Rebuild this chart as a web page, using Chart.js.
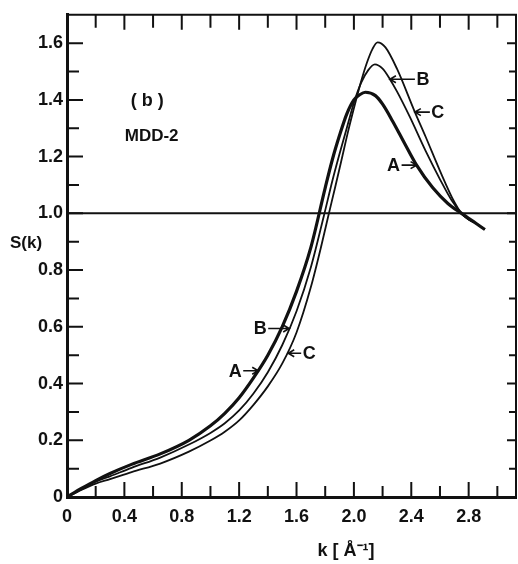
<!DOCTYPE html>
<html>
<head>
<meta charset="utf-8">
<script src="https://cdn.jsdelivr.net/npm/chart.js@4.4.1/dist/chart.umd.min.js"></script>
<style>
  html, body { margin: 0; padding: 0; background: #fff; }
  #wrap { width: 518px; height: 564px; }
</style>
</head>
<body>
<div id="wrap"><canvas id="sk" width="518" height="564"></canvas></div>
<script>
// curve A (thick)
const kA = [0, 0.1, 0.2, 0.3, 0.45, 0.65, 0.85, 1.0, 1.1, 1.2, 1.3, 1.4, 1.5, 1.6, 1.7, 1.8, 1.85, 1.9, 1.95, 2.0, 2.04, 2.08, 2.15, 2.2, 2.27, 2.35, 2.437, 2.55, 2.655, 2.75, 2.85, 2.913];
const sA = [0, 0.03, 0.058, 0.083, 0.115, 0.152, 0.2, 0.251, 0.295, 0.35, 0.42, 0.5, 0.6, 0.725, 0.88, 1.09, 1.19, 1.275, 1.35, 1.4, 1.418, 1.427, 1.415, 1.385, 1.325, 1.25, 1.17, 1.09, 1.035, 1.0, 0.965, 0.943];
// curve B
const kB = [0, 0.1, 0.2, 0.3, 0.45, 0.65, 0.85, 1.0, 1.1, 1.2, 1.3, 1.4, 1.5, 1.6, 1.7, 1.79, 1.85, 1.9, 1.95, 2.0, 2.05, 2.1, 2.146, 2.2, 2.251, 2.3, 2.39, 2.5, 2.6, 2.68, 2.75, 2.8, 2.85, 2.913];
const sB = [0, 0.028, 0.054, 0.073, 0.103, 0.139, 0.185, 0.226, 0.26, 0.305, 0.365, 0.44, 0.535, 0.655, 0.81, 0.99, 1.115, 1.21, 1.3, 1.39, 1.46, 1.505, 1.525, 1.51, 1.473, 1.43, 1.34, 1.22, 1.12, 1.047, 1.0, 0.978, 0.965, 0.943];
// curve C
const kC = [0, 0.1, 0.2, 0.3, 0.45, 0.65, 0.85, 1.0, 1.1, 1.2, 1.3, 1.4, 1.5, 1.6, 1.7, 1.775, 1.821, 1.866, 1.91, 1.96, 2.01, 2.05, 2.09, 2.13, 2.165, 2.22, 2.3, 2.425, 2.5, 2.6, 2.7, 2.75, 2.8, 2.85, 2.913];
const sC = [0, 0.025, 0.047, 0.063, 0.088, 0.118, 0.16, 0.199, 0.23, 0.27, 0.325, 0.39, 0.47, 0.58, 0.74, 0.89, 0.99, 1.085, 1.18, 1.29, 1.39, 1.465, 1.53, 1.58, 1.603, 1.585, 1.51, 1.357, 1.27, 1.15, 1.04, 1.0, 0.978, 0.965, 0.943];

const xTicks = [0, 0.4, 0.8, 1.2, 1.6, 2.0, 2.4, 2.8];
const xTickLabels = ['0', '0.4', '0.8', '1.2', '1.6', '2.0', '2.4', '2.8'];
const yTicks = [0, 0.2, 0.4, 0.6, 0.8, 1.0, 1.2, 1.4, 1.6];
const yTickLabels = ['0', '0.2', '0.4', '0.6', '0.8', '1.0', '1.2', '1.4', '1.6'];

const FONT = '"Liberation Sans", Arial, sans-serif';
const INK = '#111';

function pts(ks, ss) {
  return ks.map((k, i) => ({ x: k, y: ss[i] }));
}

// curve labels: arrow tip (data coords), arrow length, which side the letter sits
const curveLabels = [
  { text: 'A', x: 2.437, y: 1.17, len: 15, side: 'left' },
  { text: 'B', x: 2.251, y: 1.473, len: 25, side: 'right' },
  { text: 'C', x: 2.425, y: 1.357, len: 15, side: 'right' },
  { text: 'A', x: 1.333, y: 0.445, len: 15, side: 'left' },
  { text: 'B', x: 1.549, y: 0.594, len: 21, side: 'left' },
  { text: 'C', x: 1.542, y: 0.507, len: 13, side: 'right' },
];

function arrow(ctx, x1, y, x2) {
  const d = x2 > x1 ? 1 : -1;
  ctx.beginPath();
  ctx.moveTo(x1, y);
  ctx.lineTo(x2, y);
  ctx.moveTo(x2 - d * 6, y - 3.5);
  ctx.lineTo(x2, y);
  ctx.lineTo(x2 - d * 6, y + 3.5);
  ctx.stroke();
}

const decor = {
  id: 'decor',
  afterDatasetsDraw(chart) {
    const { ctx, chartArea: a, scales: { x, y } } = chart;
    ctx.save();
    ctx.strokeStyle = INK;
    ctx.fillStyle = INK;

    // top and right frame
    ctx.lineWidth = 2;
    ctx.beginPath();
    ctx.moveTo(a.left, a.top);
    ctx.lineTo(a.right, a.top);
    ctx.lineTo(a.right, a.bottom);
    ctx.stroke();

    // S(k) = 1 line
    ctx.lineWidth = 2;
    ctx.beginPath();
    ctx.moveTo(a.left, y.getPixelForValue(1));
    ctx.lineTo(a.right, y.getPixelForValue(1));
    ctx.stroke();

    // inward ticks
    ctx.lineWidth = 2;
    for (let i = 1; i <= 15; i++) {
      const v = i * 0.2;
      const px = x.getPixelForValue(v);
      if (px >= a.right - 1) break;
      const major = i % 2 === 0;
      ctx.beginPath();
      ctx.moveTo(px, a.bottom);
      ctx.lineTo(px, a.bottom - (major ? 15 : 11));
      ctx.moveTo(px, a.top);
      ctx.lineTo(px, a.top + (major ? 15 : 13));
      ctx.stroke();
    }
    for (let i = 1; i <= 16; i++) {
      const py = y.getPixelForValue(i * 0.1);
      const major = i % 2 === 0;
      ctx.beginPath();
      ctx.moveTo(a.left, py);
      ctx.lineTo(a.left + (major ? 16 : 12), py);
      ctx.moveTo(a.right, py);
      ctx.lineTo(a.right - (major ? 9 : 7), py);
      ctx.stroke();
    }

    // curve labels with arrows
    ctx.font = 'bold 18px ' + FONT;
    ctx.textAlign = 'center';
    ctx.textBaseline = 'middle';
    ctx.lineWidth = 1.6;
    curveLabels.forEach((l) => {
      const tx = x.getPixelForValue(l.x);
      const ty = y.getPixelForValue(l.y);
      const d = l.side === 'left' ? -1 : 1;
      const tail = tx + d * l.len;
      arrow(ctx, tail, ty, tx);
      ctx.fillText(l.text, tail + d * 8, ty + 1);
    });

    // panel text
    ctx.font = 'bold 18px ' + FONT;
    ctx.fillText('( b )', x.getPixelForValue(0.56), y.getPixelForValue(1.395));
    ctx.font = 'bold 17px ' + FONT;
    ctx.fillText('MDD-2', x.getPixelForValue(0.59), y.getPixelForValue(1.272));

    // axis titles
    ctx.font = 'bold 17px ' + FONT;
    ctx.fillText('S(k)', 26, y.getPixelForValue(0.895));
    ctx.font = 'bold 18px ' + FONT;
    ctx.fillText('k [ Å\u207B\u00B9]', 346, 551);
    ctx.restore();
  },
};

new Chart(document.getElementById('sk'), {
  type: 'line',
  data: {
    datasets: [
      { label: 'A', data: pts(kA, sA), borderWidth: 3.2 },
      { label: 'B', data: pts(kB, sB), borderWidth: 1.8 },
      { label: 'C', data: pts(kC, sC), borderWidth: 1.8 },
    ].map((d) => ({
      ...d,
      borderColor: INK,
      pointRadius: 0,
      fill: false,
      cubicInterpolationMode: 'monotone',
    })),
  },
  options: {
    responsive: false,
    animation: false,
    devicePixelRatio: 1,
    layout: { padding: { top: 11, right: 2, left: 0, bottom: 0 } },
    plugins: { legend: { display: false }, tooltip: { enabled: false } },
    scales: {
      x: {
        type: 'linear',
        min: 0,
        max: 3.13,
        afterFit: (s) => { s.height = 67; },
        afterBuildTicks: (s) => { s.ticks = xTicks.map((v) => ({ value: v })); },
        grid: { display: false, drawTicks: false },
        border: { display: true, width: 3, color: INK },
        ticks: {
          callback: (v, i) => xTickLabels[i],
          font: { family: FONT, size: 18, weight: 'bold' },
          color: INK,
          maxRotation: 0,
          autoSkip: false,
          padding: 9,
        },
      },
      y: {
        type: 'linear',
        min: 0,
        max: 1.7,
        afterFit: (s) => { s.width = 67; },
        afterBuildTicks: (s) => { s.ticks = yTicks.map((v) => ({ value: v })); },
        grid: { display: false, drawTicks: false },
        border: { display: true, width: 3, color: INK },
        ticks: {
          callback: (v, i) => yTickLabels[i],
          font: { family: FONT, size: 18, weight: 'bold' },
          color: INK,
          autoSkip: false,
          padding: 4,
        },
      },
    },
  },
  plugins: [decor],
});
</script>
</body>
</html>
